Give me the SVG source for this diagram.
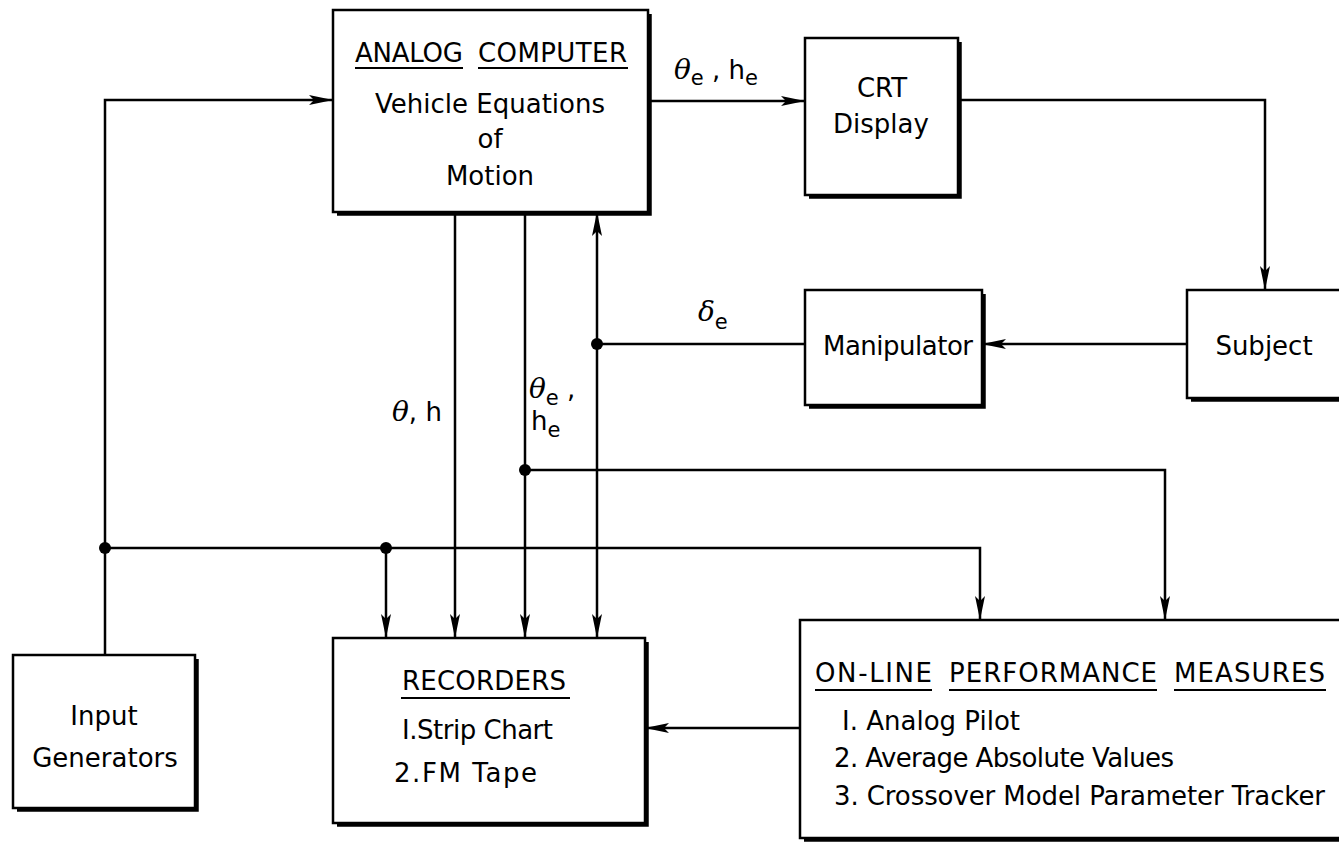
<svg xmlns="http://www.w3.org/2000/svg" width="1339" height="845" viewBox="0 0 1339 845">
<defs>
<style>
.box{fill:#fff;stroke:#000;stroke-width:2.5}
.sh{fill:none;stroke:#000;stroke-width:3.5}
.ln{fill:none;stroke:#000;stroke-width:2.5}
.ul{stroke:#000;stroke-width:2.2}
text{font-family:"DejaVu Sans","Liberation Sans",Arial,sans-serif;font-size:26px;fill:#000}
.c{text-anchor:middle}
.g{font-family:"DejaVu Serif","Liberation Serif",serif;font-style:italic;font-size:28px}
.n{font-family:"DejaVu Sans","Liberation Sans",Arial,sans-serif;font-style:normal;font-size:26px}
.sub{font-family:"DejaVu Sans","Liberation Sans",Arial,sans-serif;font-style:normal;font-size:21px}
</style>
<marker id="arr" viewBox="0 0 24 11" refX="24" refY="5.5" markerWidth="24" markerHeight="11" markerUnits="userSpaceOnUse" orient="auto-start-reverse">
<path d="M0,0.5 L24,5.5 L0,10.5 L5,5.5 Z" fill="#000"/>
</marker>
</defs>
<rect width="1339" height="845" fill="#fff"/>

<g id="connectors">
<polyline class="ln" points="105,655 105,100 333,100" marker-end="url(#arr)"/>
<line class="ln" x1="648" y1="101" x2="805" y2="101" marker-end="url(#arr)"/>
<polyline class="ln" points="958,100 1265,100 1265,290" marker-end="url(#arr)"/>
<line class="ln" x1="1187" y1="344" x2="982" y2="344" marker-end="url(#arr)"/>
<line class="ln" x1="805" y1="344" x2="597" y2="344"/>
<line class="ln" x1="597" y1="638" x2="597" y2="212" marker-start="url(#arr)" marker-end="url(#arr)"/>
<line class="ln" x1="455" y1="212" x2="455" y2="638" marker-end="url(#arr)"/>
<line class="ln" x1="525" y1="212" x2="525" y2="638" marker-end="url(#arr)"/>
<polyline class="ln" points="525,470 1165,470 1165,620" marker-end="url(#arr)"/>
<polyline class="ln" points="105,548 980,548 980,620" marker-end="url(#arr)"/>
<line class="ln" x1="386" y1="548" x2="386" y2="638" marker-end="url(#arr)"/>
<line class="ln" x1="800" y1="728" x2="645" y2="728" marker-end="url(#arr)"/>
<circle cx="105" cy="548" r="6"/>
<circle cx="386" cy="548" r="6"/>
<circle cx="525" cy="470" r="6"/>
<circle cx="597" cy="344" r="6"/>
<text class="g" x="674" y="79">θ<tspan class="sub" dy="6">e</tspan><tspan class="n" dy="-6"> , h</tspan><tspan class="sub" dy="6">e</tspan></text>
<text class="g" x="698" y="321">δ<tspan class="sub" dy="8">e</tspan></text>
<text class="g" x="392" y="421">θ<tspan class="n">, h</tspan></text>
<text class="g" x="529" y="398">θ<tspan class="sub" dy="7">e</tspan><tspan class="n" dy="-7"> ,</tspan></text>
<text x="531" y="430">h<tspan class="sub" dy="7">e</tspan></text>
</g>

<g id="analog-computer">
<rect class="box" x="333" y="10" width="315" height="202"/>
<polyline class="sh" points="650,14 650,214 337,214"/>
<text x="355" y="62" textLength="108">ANALOG</text>
<text x="478" y="62" textLength="149">COMPUTER</text>
<line class="ul" x1="355" y1="68" x2="463" y2="68"/>
<line class="ul" x1="478" y1="68" x2="628" y2="68"/>
<text x="375" y="113" textLength="230">Vehicle Equations</text>
<text class="c" x="490" y="148">of</text>
<text class="c" x="490" y="185">Motion</text>
</g>

<g id="crt-display">
<rect class="box" x="805" y="38" width="153" height="157"/>
<polyline class="sh" points="960,42 960,197 809,197"/>
<text class="c" x="882" y="97">CRT</text>
<text class="c" x="881" y="133">Display</text>
</g>

<g id="subject">
<rect class="box" x="1187" y="290" width="160" height="108"/>
<polyline class="sh" points="1191,400 1347,400"/>
<text class="c" x="1264" y="355">Subject</text>
</g>

<g id="manipulator">
<rect class="box" x="805" y="290" width="177" height="115"/>
<polyline class="sh" points="984,294 984,407 809,407"/>
<text x="823" y="355" textLength="150">Manipulator</text>
</g>

<g id="input-generators">
<rect class="box" x="13" y="655" width="182" height="153"/>
<polyline class="sh" points="197,659 197,810 17,810"/>
<text class="c" x="104" y="725">Input</text>
<text class="c" x="105" y="767">Generators</text>
</g>

<g id="recorders">
<rect class="box" x="333" y="638" width="312" height="185"/>
<polyline class="sh" points="647,642 647,825 337,825"/>
<text x="402" y="690" textLength="164">RECORDERS</text>
<line class="ul" x1="401" y1="698" x2="570" y2="698"/>
<text x="402" y="739" textLength="151">I.Strip Chart</text>
<text x="394" y="782" textLength="143">2.FM Tape</text>
</g>

<g id="online-performance-measures">
<rect class="box" x="800" y="620" width="547" height="218"/>
<polyline class="sh" points="804,840 1347,840"/>
<text x="815" y="682" textLength="117">ON-LINE</text>
<text x="949" y="682" textLength="208">PERFORMANCE</text>
<text x="1174" y="682" textLength="151">MEASURES</text>
<line class="ul" x1="815" y1="690" x2="932" y2="690"/>
<line class="ul" x1="949" y1="690" x2="1157" y2="690"/>
<line class="ul" x1="1174" y1="690" x2="1326" y2="690"/>
<text x="842" y="730" textLength="178">I. Analog Pilot</text>
<text x="834" y="767" textLength="340">2. Average Absolute Values</text>
<text x="834" y="805" textLength="491">3. Crossover Model Parameter Tracker</text>
</g>
</svg>
